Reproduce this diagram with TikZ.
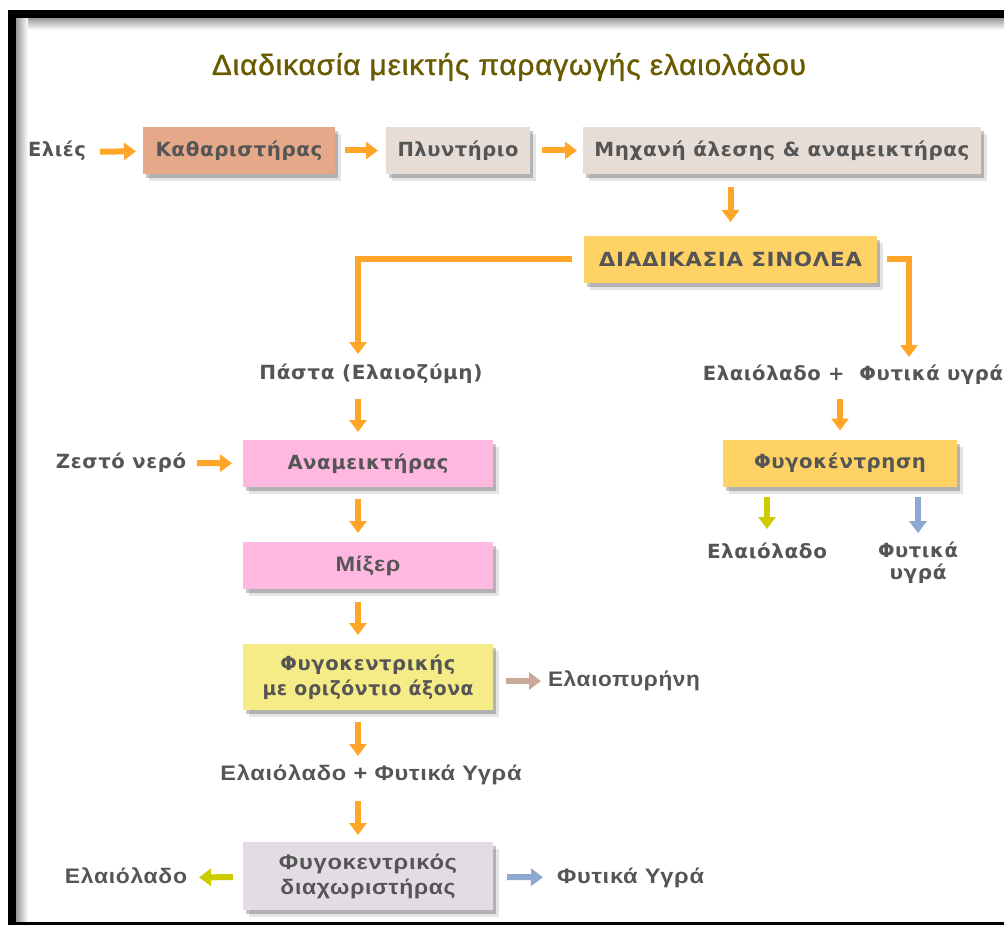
\documentclass[tikz,border=0pt]{standalone}
\usepackage{fontspec}
\usepackage{graphicx}
\usetikzlibrary{arrows.meta,shadows,calc}
\newfontfamily\dvb{DejaVu Sans Bold}[LetterSpace=3]
\newfontfamily\lsb{Liberation Sans Bold}[LetterSpace=3]
\newfontfamily\lsr{Liberation Sans}[LetterSpace=3,FakeBold=1.2]
\definecolor{orng}{HTML}{FFA628}
\definecolor{ygrn}{HTML}{CCCC00}
\definecolor{blu}{HTML}{8FA8CF}
\definecolor{tan}{HTML}{C9AA9A}
\definecolor{txtc}{HTML}{555555}
\definecolor{olive}{HTML}{6B5B00}
\definecolor{salm}{HTML}{E5A98A}
\definecolor{stone}{HTML}{E5DDD6}
\definecolor{gold}{HTML}{FFD266}
\definecolor{pink}{HTML}{FFB8E0}
\definecolor{ltyel}{HTML}{F5EC88}
\definecolor{lav}{HTML}{E3DCE4}
\newcommand{\W}[2]{\resizebox{#1pt}{\height}{#2}}
\begin{document}
\begin{tikzpicture}[x=1pt,y=-1pt,
  shd/.style={drop shadow={shadow xshift=3pt,shadow yshift=-4pt,opacity=.22,fill=black},
              drop shadow={shadow xshift=6pt,shadow yshift=-7pt,opacity=.1,fill=black}},
  bx/.style={shd,inner sep=0,outer sep=0,text=txtc,align=center,
             font={\fontsize{19.5}{25}\selectfont\dvb}},
  nbx/.style={bx,font={\fontsize{21}{25}\selectfont\lsb}},
  lbl/.style={inner sep=0,outer sep=0,text=txtc,text height=14pt,text depth=4pt,
             font={\fontsize{19.5}{22}\selectfont\dvb}},
  nlbl/.style={lbl,font={\fontsize{21}{22}\selectfont\lsb}},
  arr/.style={line width=6pt,-{Triangle[width=17pt,length=12pt]}},
  oarr/.style={arr,draw=orng},
  yarr/.style={arr,draw=ygrn},
  barr/.style={arr,draw=blu},
  tarr/.style={arr,draw=tan}]
\clip (0,0) rectangle (1004,925);
% frame
\fill[white] (0,0) rectangle (1004,925);
\shade[top color=black!40,bottom color=white] (16,18) rectangle (1004,30);
\shade[left color=black!40,right color=white] (16,18) rectangle (28,922);
\fill[black] (8,10) rectangle (1004,18);
\fill[black] (8,10) rectangle (16,925);
\fill[black] (8,922) rectangle (1004,925);
% title
\node[inner sep=0,text=olive,font={\fontsize{29}{32}\selectfont\lsr}] (title) at (509,67) {\W{594}{Διαδικασία μεικτής παραγωγής ελαιολάδου}};
% boxes
\node[bx,fill=salm,minimum width=192pt,minimum height=47pt] (kath) at (239,150.5) {\W{167}{Καθαριστήρας}};
\node[bx,fill=stone,minimum width=144pt,minimum height=47pt] (plyn) at (458,150.5) {\W{121}{Πλυντήριο}};
\node[bx,fill=stone,minimum width=398pt,minimum height=47pt] (mech) at (782,150.5) {\W{375}{Μηχανή άλεσης \& αναμεικτήρας}};
\node[bx,fill=gold,minimum width=293pt,minimum height=47pt] (sin) at (730.5,259.5) {\W{263}{ΔΙΑΔΙΚΑΣΙΑ ΣΙΝΟΛΕΑ}};
\node[bx,fill=gold,minimum width=234pt,minimum height=47pt] (fyg) at (840,463) {\W{172}{Φυγοκέντρηση}};
\node[bx,fill=pink,minimum width=250pt,minimum height=47pt] (anam) at (368,463.5) {\W{161}{Αναμεικτήρας}};
\node[nbx,fill=pink,minimum width=250pt,minimum height=47pt] (mix) at (368,565.5) {\W{65}{Μίξερ}};
\node[bx,fill=ltyel,minimum width=250pt,minimum height=66pt] (fhor) at (368,677) {\W{175}{Φυγοκεντρικής}\\\W{211}{με οριζόντιο άξονα}};
\node[nbx,fill=lav,minimum width=250pt,minimum height=68pt] (diax) at (368,876) {\W{178}{Φυγοκεντρικός}\\\W{175}{διαχωριστήρας}};
% labels
\node[lbl] (eli) at (57,152) {\W{58}{Ελιές}};
\node[lbl] (zest) at (121,463) {\W{130}{Ζεστό νερό}};
\node[lbl] (pasta) at (371,374) {\W{223}{Πάστα (Ελαιοζύμη)}};
\node[lbl] (eprt) at (853,375) {\W{300}{Ελαιόλαδο +\ \ Φυτικά υγρά}};
\node[lbl] (oilR) at (767,553) {\W{120}{Ελαιόλαδο}};
\node[inner sep=0,outer sep=0,text=txtc,align=center,font={\fontsize{19.5}{22}\selectfont\dvb}] (plantR) at (918,563) {\W{80}{Φυτικά}\\\W{57}{υγρά}};
\node[nlbl] (pyr) at (624,681) {\W{152}{Ελαιοπυρήνη}};
\node[nlbl] (elfy) at (371,775) {\W{301}{Ελαιόλαδο + Φυτικά Υγρά}};
\node[nlbl] (oilL) at (126,878) {\W{122}{Ελαιόλαδο}};
\node[nlbl] (plantL) at (630.5,878) {\W{147}{Φυτικά Υγρά}};
\coordinate (colx) at (358,0);
% connectors
\draw[oarr,shorten <=14pt,shorten >=7pt] (eli) -- (kath);
\draw[oarr,shorten <=10pt,shorten >=8pt] (kath) -- (plyn);
\draw[oarr,shorten <=12pt,shorten >=6pt] (plyn) -- (mech);
\draw[oarr,shorten <=13pt,shorten >=14pt] (mech.south -| sin.north) -- (sin.north);
\draw[oarr] ([xshift=-12pt]sin.west) -| ([xshift=-13pt,yshift=11pt]pasta.north);
\draw[oarr] ([xshift=10pt]sin.east) -| ([xshift=56pt,yshift=9pt]eprt.north);
\draw[oarr,shorten <=15pt,shorten >=9pt] (eprt.south -| fyg.north) -- (fyg.north);
\draw[yarr,shorten <=10pt,shorten >=15pt] (fyg.south -| oilR.north) -- (oilR.north);
\draw[barr,shorten <=10pt,shorten >=9pt] (fyg.south -| plantR.north) -- (plantR.north);
\draw[oarr,shorten <=16pt,shorten >=8pt] (pasta.south -| colx) -- (anam.north -| colx);
\draw[oarr,shorten <=11pt,shorten >=11pt] (zest) -- (anam);
\draw[oarr,shorten <=12pt,shorten >=9pt] (anam.south -| colx) -- (mix.north -| colx);
\draw[oarr,shorten <=13pt,shorten >=9pt] (mix.south -| colx) -- (fhor.north -| colx);
\draw[tarr,shorten <=13pt,shorten >=7pt] (fhor.east |- pyr) -- (pyr);
\draw[oarr,shorten <=12pt,shorten >=10pt] (fhor.south -| colx) -- (elfy.north -| colx);
\draw[oarr,shorten <=17pt,shorten >=7pt] (elfy.south -| colx) -- (diax.north -| colx);
\draw[yarr,shorten <=10pt,shorten >=12pt] (diax) -- (oilL);
\draw[barr,shorten <=14pt,shorten >=14pt] (diax) -- (plantL);
\end{tikzpicture}
\end{document}
